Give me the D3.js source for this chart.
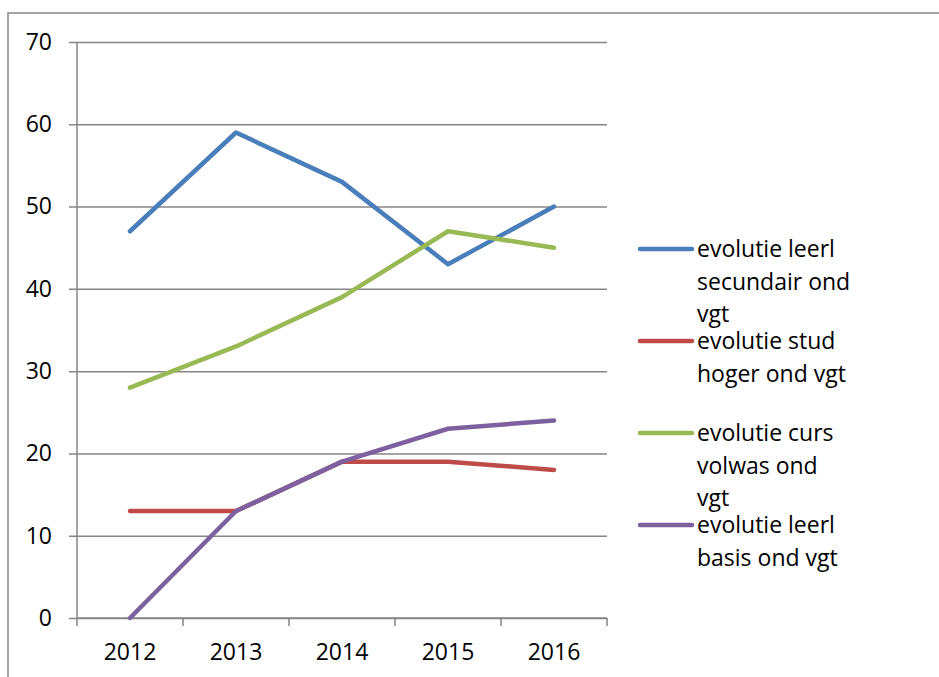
<!DOCTYPE html>
<html>
<head>
<meta charset="utf-8">
<script src="https://cdn.jsdelivr.net/npm/d3@7"></script>
<style>
  html, body { margin: 0; padding: 0; background: #fff; }
  svg { display: block; }
  text { font-family: "Open Sans", "Noto Sans", sans-serif; fill: #000; }
</style>
</head>
<body>
<svg id="chart" width="939" height="677"></svg>
<script>
const years = ["2012", "2013", "2014", "2015", "2016"];
const leerlSecundair = [47, 59, 53, 43, 50];
const studHoger = [13, 13, 19, 19, 18];
const cursVolwas = [28, 33, 39, 47, 45];
const leerlBasis = [0, 13, 19, 23, 24];
const yTicks = [0, 10, 20, 30, 40, 50, 60, 70];

const series = [
  { name: ["evolutie leerl", "secundair ond", "vgt"], values: leerlSecundair, color: "#4A7EBB" },
  { name: ["evolutie stud", "hoger ond vgt"], values: studHoger, color: "#BE4B48" },
  { name: ["evolutie curs", "volwas ond", "vgt"], values: cursVolwas, color: "#98B954" },
  { name: ["evolutie leerl", "basis ond vgt"], values: leerlBasis, color: "#7D60A0" }
];

const svg = d3.select("#chart");
const gridColor = "#868686";
const fontSize = 23;

// outer chart frame
svg.append("rect")
  .attr("x", 8).attr("y", 13)
  .attr("width", 960).attr("height", 700)
  .attr("fill", "none").attr("stroke", gridColor).attr("stroke-width", 1.5);

const plot = { left: 77, right: 607, top: 42, bottom: 618 };

const x = d3.scaleBand().domain(years).range([plot.left, plot.right]).paddingInner(0).paddingOuter(0);
const y = d3.scaleLinear().domain([0, 70]).range([plot.bottom, plot.top]);

// horizontal gridlines with outward ticks
svg.append("g").attr("transform", `translate(${plot.left},0)`)
  .call(d3.axisLeft(y).tickValues(yTicks).tickSize(-(plot.right - plot.left)).tickSizeOuter(0).tickPadding(25).tickFormat(d3.format("d")))
  .call(g => g.select(".domain").remove())
  .call(g => g.selectAll(".tick line").attr("stroke", gridColor).attr("stroke-width", 1.5).attr("x1", -8))
  .call(g => g.selectAll(".tick text").attr("font-size", fontSize).attr("font-family", "Open Sans").attr("fill", "#000"));

// vertical axis line
svg.append("line")
  .attr("x1", plot.left).attr("x2", plot.left).attr("y1", plot.top).attr("y2", plot.bottom)
  .attr("stroke", gridColor).attr("stroke-width", 1.5);

// category axis with ticks at band boundaries
const xAxis = svg.append("g").attr("transform", `translate(0,${plot.bottom})`)
  .call(d3.axisBottom(x).tickSize(0).tickPadding(26))
  .call(g => g.select(".domain").remove())
  .call(g => g.selectAll(".tick text").attr("font-size", fontSize).attr("font-family", "Open Sans").attr("fill", "#000"));

xAxis.append("line")
  .attr("x1", plot.left).attr("x2", plot.right).attr("y1", 0).attr("y2", 0)
  .attr("stroke", gridColor).attr("stroke-width", 1.5);

const boundaries = years.map(d => x(d)).concat([plot.right]);
xAxis.selectAll("line.bound").data(boundaries).enter().append("line")
  .attr("class", "bound")
  .attr("x1", d => d).attr("x2", d => d).attr("y1", 0).attr("y2", 8)
  .attr("stroke", gridColor).attr("stroke-width", 1.5);

// series lines
const line = d3.line()
  .x((d, i) => x(years[i]) + x.bandwidth() / 2)
  .y(d => y(d));

svg.append("g").selectAll("path").data(series).enter().append("path")
  .attr("d", d => line(d.values))
  .attr("fill", "none")
  .attr("stroke", d => d.color)
  .attr("stroke-width", 4.5)
  .attr("stroke-linejoin", "round")
  .attr("stroke-linecap", "round");

// legend
const legend = svg.append("g");
const entryY = [249, 341, 433, 525];
const lineGap = 32.5;
series.forEach((s, i) => {
  const g = legend.append("g").attr("transform", `translate(0,${entryY[i]})`);
  g.append("line")
    .attr("x1", 640).attr("x2", 692).attr("y1", 0).attr("y2", 0)
    .attr("stroke", s.color).attr("stroke-width", 4.5).attr("stroke-linecap", "round");
  const t = g.append("text").attr("x", 697).attr("y", 0).attr("font-size", fontSize);
  s.name.forEach((ln, k) => {
    t.append("tspan").attr("x", 697).attr("y", k * lineGap).attr("dy", "0.35em").text(ln);
  });
});
</script>
</body>
</html>
